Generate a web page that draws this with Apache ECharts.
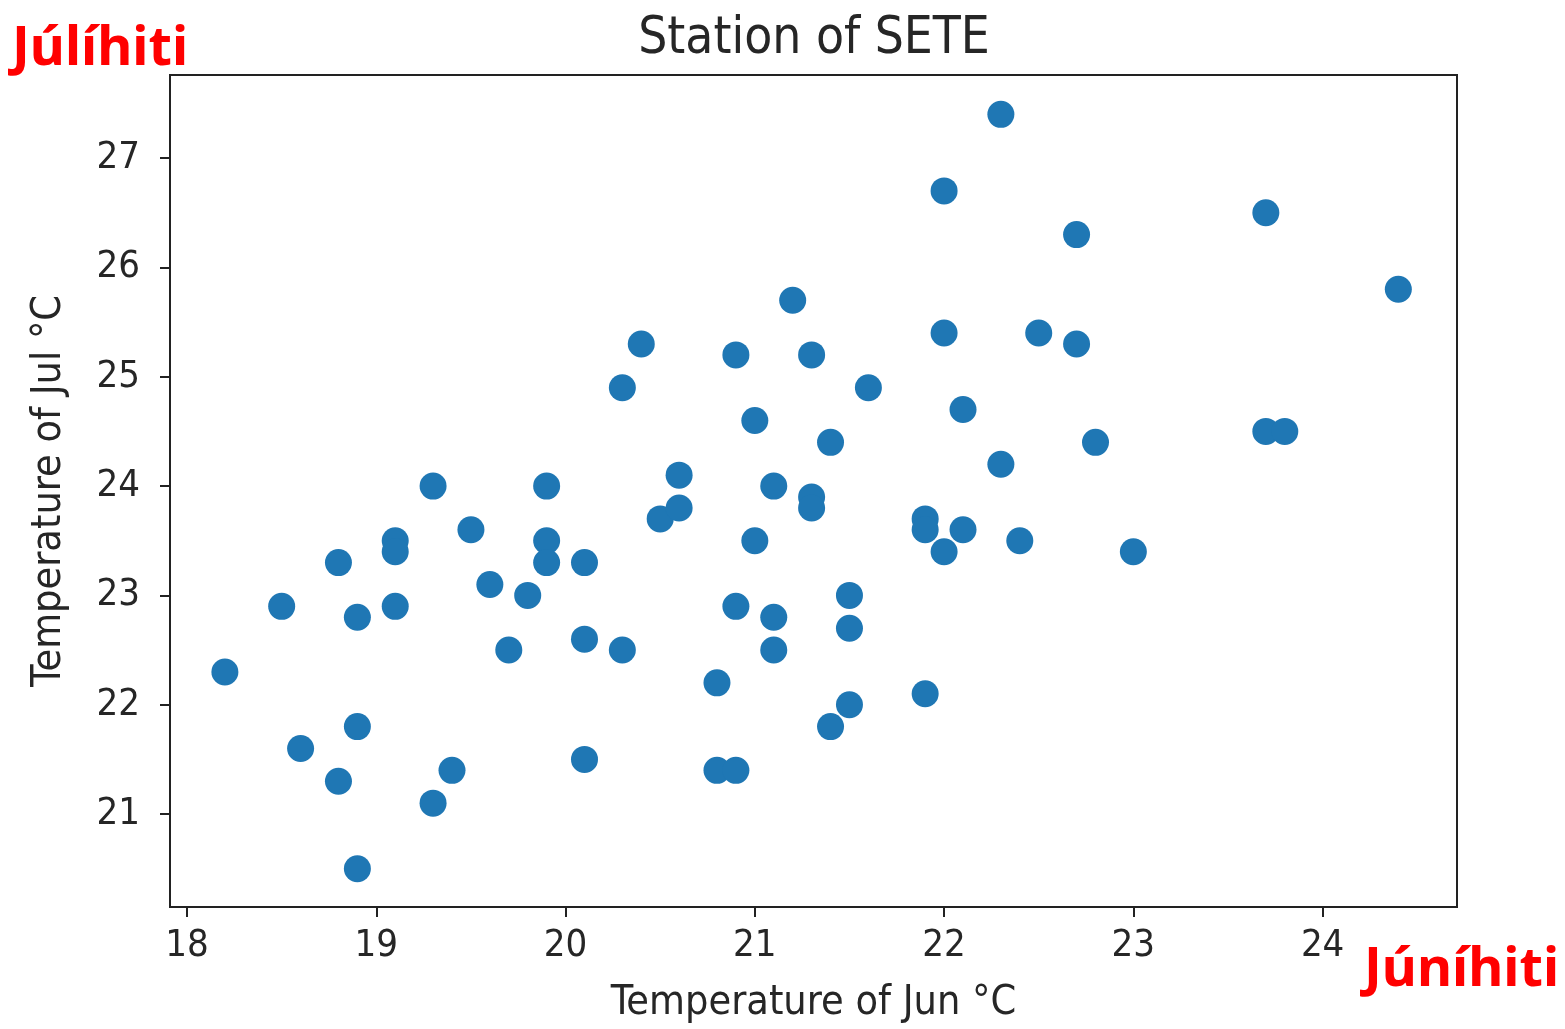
<!DOCTYPE html>
<html>
<head>
<meta charset="utf-8">
<title>Station of SETE</title>
<script src="https://cdn.jsdelivr.net/npm/echarts@6/dist/echarts.min.js"></script>
<style>
  html, body { margin: 0; padding: 0; background: #ffffff; }
  #chart { width: 1565px; height: 1029px; }
</style>
</head>
<body>
<div id="chart"></div>
<script>
// June and July mean temperatures (°C), one pair per year
const junTemps = [18.2, 18.5, 18.6, 18.8, 18.8, 18.9, 18.9, 18.9,
  19.1, 19.1, 19.1, 19.3, 19.3, 19.4, 19.5, 19.6, 19.7, 19.8, 19.9, 19.9, 19.9,
  20.1, 20.1, 20.1, 20.3, 20.3, 20.4, 20.5, 20.6, 20.6, 20.8, 20.8, 20.9, 20.9, 20.9,
  21.0, 21.0, 21.2, 21.1, 21.1, 21.1, 21.3, 21.3, 21.3, 21.4, 21.4, 21.5, 21.5, 21.5, 21.6, 21.9, 21.9, 21.9,
  22.0, 22.0, 22.0, 22.1, 22.1, 22.3, 22.3, 22.4, 22.5, 22.7, 22.7, 22.8,
  23.0, 23.7, 23.7, 23.8, 24.4];
const julTemps = [22.3, 22.9, 21.6, 23.3, 21.3, 22.8, 21.8, 20.5,
  23.5, 23.4, 22.9, 24.0, 21.1, 21.4, 23.6, 23.1, 22.5, 23.0, 24.0, 23.5, 23.3,
  23.3, 22.6, 21.5, 24.9, 22.5, 25.3, 23.7, 24.1, 23.8, 22.2, 21.4, 21.4, 25.2, 22.9,
  24.6, 23.5, 25.7, 24.0, 22.8, 22.5, 25.2, 23.9, 23.8, 24.4, 21.8, 23.0, 22.7, 22.0, 24.9, 22.1, 23.7, 23.6,
  26.7, 25.4, 23.4, 24.7, 23.6, 27.4, 24.2, 23.5, 25.4, 26.3, 25.3, 24.4,
  23.4, 26.5, 24.5, 24.5, 25.8];

// Tick labels on both axes
const xTicks = [18, 19, 20, 21, 22, 23, 24];
const yTicks = [21, 22, 23, 24, 25, 26, 27];

const chartTitle = 'Station of SETE';
const xTitle = 'Temperature of Jun °C';
const yTitle = 'Temperature of Jul °C';
const cornerY = 'Júlíhiti';
const cornerX = 'Júníhiti';

const points = junTemps.map((v, i) => [v, julTemps[i]]);

const FONT = '"DejaVu Sans Condensed", "DejaVu Sans", sans-serif';
const INK = '#262626';
const FRAME = '#222222';
const CORNER_FONT = 'bold 54px "Noto Sans", "Open Sans", sans-serif';

const chart = echarts.init(document.getElementById('chart'), null, { renderer: 'canvas' });

chart.setOption({
  backgroundColor: '#ffffff',
  animation: false,
  title: {
    text: chartTitle,
    left: 809,
    textAlign: 'center',
    top: 9,
    textStyle: { fontFamily: FONT, fontSize: 51, fontWeight: 'normal', color: INK }
  },
  grid: {
    left: 170, right: 108, top: 75, bottom: 119,
    show: true,
    borderColor: FRAME,
    borderWidth: 2,
    backgroundColor: 'transparent'
  },
  xAxis: {
    type: 'value',
    min: 17.91,
    max: 24.71,
    splitLine: { show: false },
    axisLine: { show: true, onZero: false, lineStyle: { color: FRAME, width: 2 } },
    axisTick: { show: true, customValues: xTicks, length: 10, lineStyle: { color: FRAME, width: 2 } },
    axisLabel: {
      customValues: xTicks,
      fontFamily: FONT, fontSize: 38, color: INK, margin: 20
    },
    name: xTitle,
    nameLocation: 'middle',
    nameGap: 76,
    nameTextStyle: { fontFamily: FONT, fontSize: 41, color: INK }
  },
  yAxis: {
    type: 'value',
    min: 20.15,
    max: 27.76,
    splitLine: { show: false },
    axisLine: { show: true, onZero: false, lineStyle: { color: FRAME, width: 2 } },
    axisTick: { show: true, customValues: yTicks, length: 10, lineStyle: { color: FRAME, width: 2 } },
    axisLabel: {
      customValues: yTicks,
      fontFamily: FONT, fontSize: 38, color: INK, margin: 30
    },
    name: yTitle,
    nameLocation: 'middle',
    nameRotate: 90,
    nameGap: 100,
    nameTextStyle: { fontFamily: FONT, fontSize: 41, color: INK }
  },
  graphic: [
    {
      type: 'text',
      left: 12,
      top: 23,
      style: { text: cornerY, fill: '#ff0000', font: CORNER_FONT }
    },
    {
      type: 'text',
      left: 1364,
      top: 944,
      style: { text: cornerX, fill: '#ff0000', font: CORNER_FONT }
    }
  ],
  series: [{
    type: 'scatter',
    data: points,
    symbol: 'circle',
    symbolSize: 27,
    itemStyle: { color: '#1f77b4', opacity: 1 }
  }]
});
</script>
</body>
</html>
